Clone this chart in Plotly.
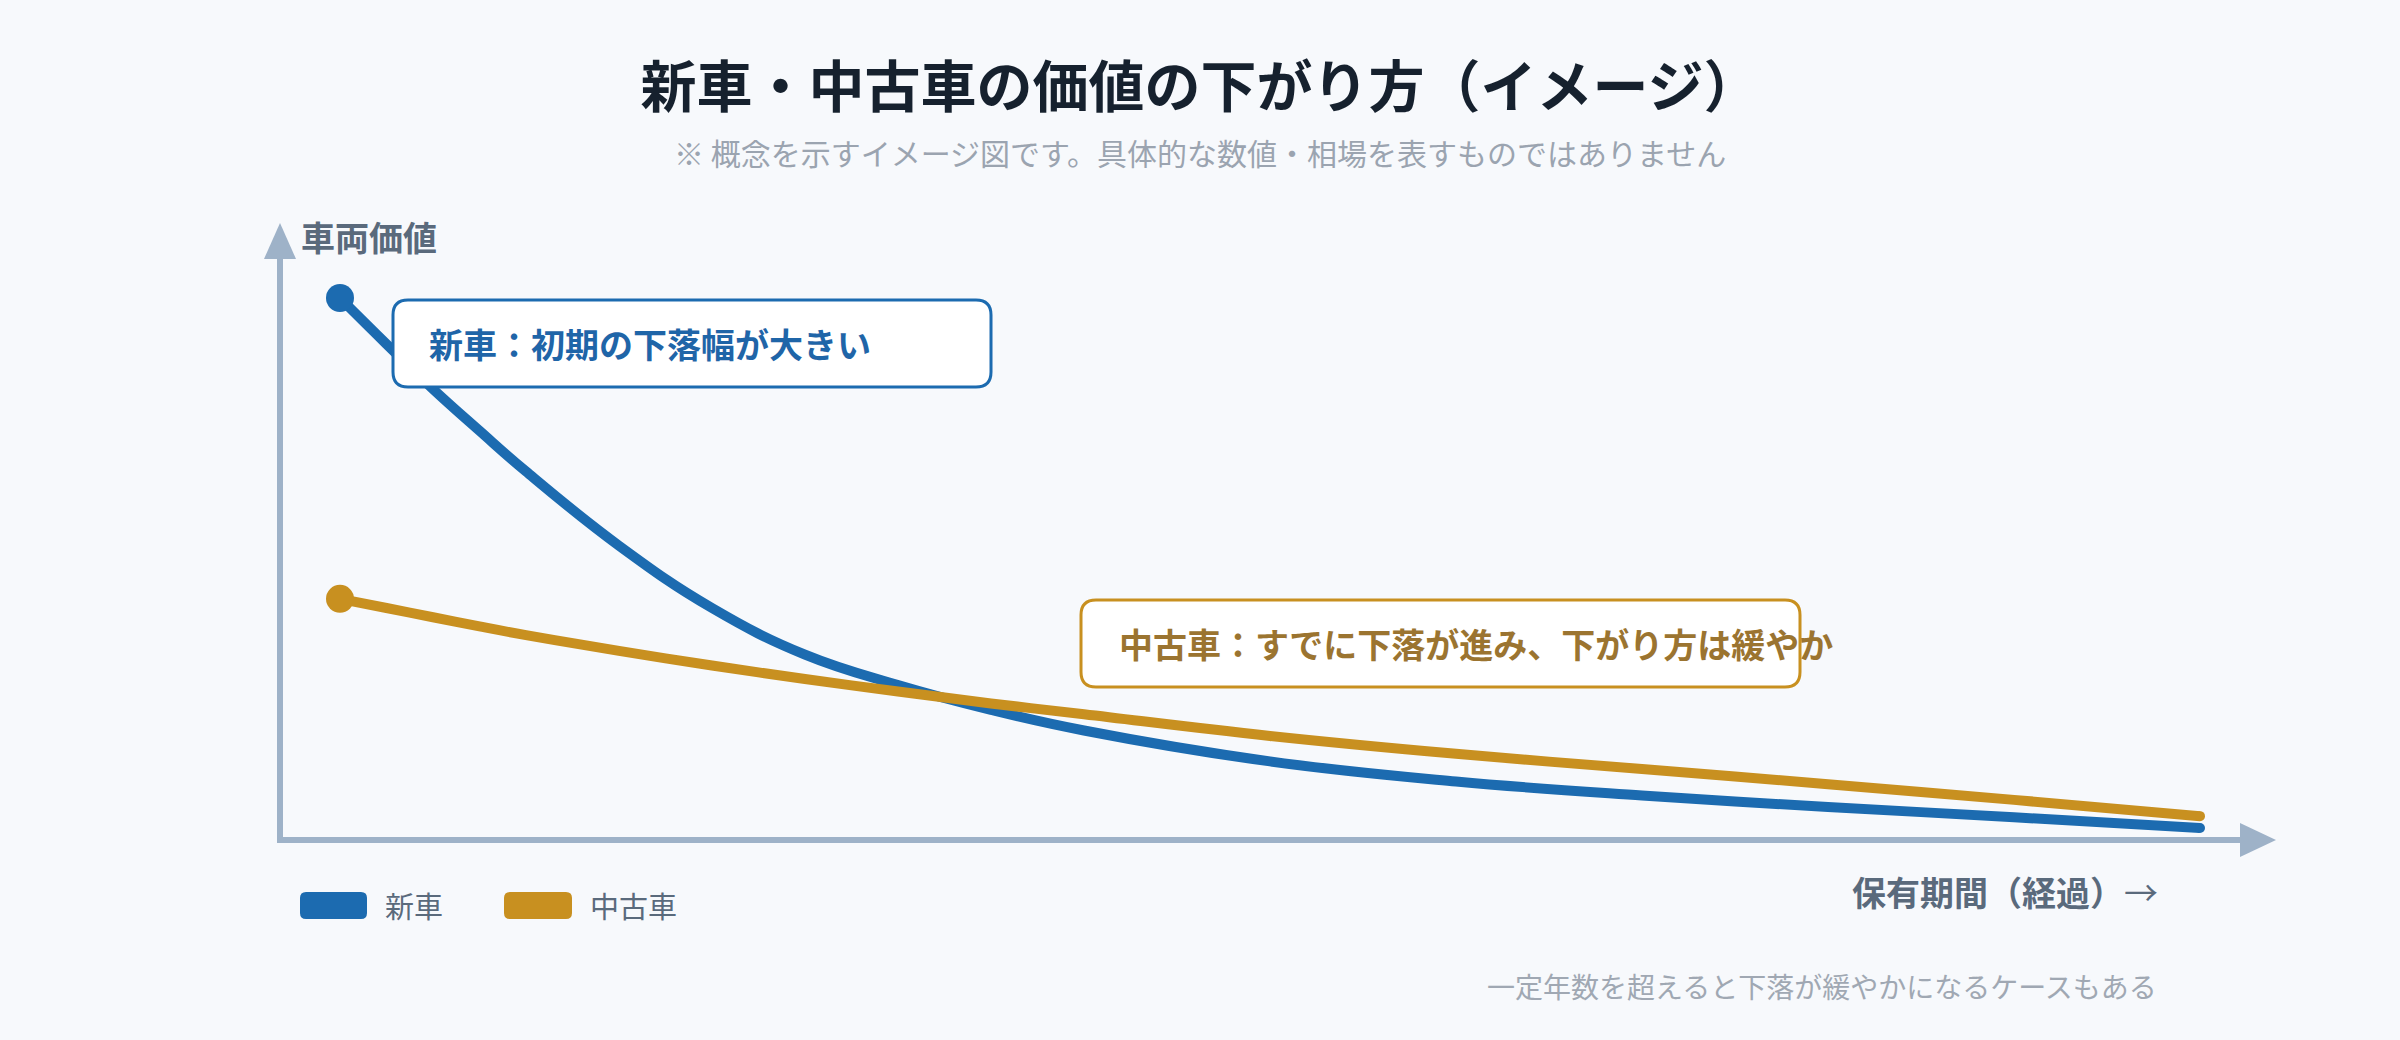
import plotly.graph_objects as go

# ---------------- data ----------------
years = [0, 0.25, 0.5, 0.75, 1, 1.5, 2, 2.5, 3, 3.5, 4, 5, 6, 7, 8, 9, 10]
new_car = [100, 91.5, 83.2, 75.5, 68.0, 54.3, 42.8, 34.2, 28.6, 24.0, 20.2, 14.5, 10.8, 8.2, 6.1, 4.2, 2.2]
used_car = [44.5, 42.8, 41.1, 39.4, 37.8, 34.9, 32.2, 29.7, 27.4, 25.2, 23.2, 19.2, 15.9, 13.1, 10.3, 7.4, 4.4]
series_names = ["新車", "中古車"]
series_colors = ["#1c6bb0", "#c89020"]

title_text = "新車・中古車の価値の下がり方（イメージ）"
subtitle_text = "※ 概念を示すイメージ図です。具体的な数値・相場を表すものではありません"
y_label = "車両価値"
x_label = "保有期間（経過）<span style='font-weight:400'>→</span>"
note_text = "一定年数を超えると下落が緩やかになるケースもある"
callouts = ["新車：初期の下落幅が大きい", "中古車：すでに下落が進み、下がり方は緩やか"]

# ---------------- layout geometry ----------------
W, H = 2400, 1040
L, R, T, B = 280, 124, 223, 200
PW, PH = W - L - R, H - T - B
FONT = "Noto Sans CJK JP, Noto Sans, sans-serif"
AXIS_COLOR = "#9eb2c8"
BG = "#f7f9fc"
LABEL_COLOR = "#5a6a7c"


def X(px):
    return (px - L) / PW


def Y(py):
    return (H - B - py) / PH


def rrect(x0, y0, x1, y1, r):
    return (f"M {X(x0 + r)},{Y(y0)} L {X(x1 - r)},{Y(y0)} Q {X(x1)},{Y(y0)} {X(x1)},{Y(y0 + r)} "
            f"L {X(x1)},{Y(y1 - r)} Q {X(x1)},{Y(y1)} {X(x1 - r)},{Y(y1)} "
            f"L {X(x0 + r)},{Y(y1)} Q {X(x0)},{Y(y1)} {X(x0)},{Y(y1 - r)} "
            f"L {X(x0)},{Y(y0 + r)} Q {X(x0)},{Y(y0)} {X(x0 + r)},{Y(y0)} Z")


fig = go.Figure()
for name, vals, col in zip(series_names, [new_car, used_car], series_colors):
    fig.add_trace(go.Scatter(
        x=years, y=vals, name=name, mode="lines",
        line=dict(color=col, width=10, shape="spline", smoothing=1.2),
        showlegend=False, hoverinfo="skip"))
    fig.add_trace(go.Scatter(
        x=[years[0], years[-1]], y=[vals[0], vals[-1]], mode="markers",
        marker=dict(color=col, size=[28, 10], opacity=1, line=dict(width=0)),
        showlegend=False, hoverinfo="skip"))

shapes = []
# axes
shapes.append(dict(type="line", xref="paper", yref="paper", x0=X(277), x1=X(2245), y0=Y(840), y1=Y(840),
                   line=dict(color=AXIS_COLOR, width=6), layer="below"))
shapes.append(dict(type="line", xref="paper", yref="paper", x0=X(280), x1=X(280), y0=Y(843), y1=Y(256),
                   line=dict(color=AXIS_COLOR, width=6), layer="below"))
shapes.append(dict(type="path", xref="paper", yref="paper",
                   path=f"M {X(2240)},{Y(823)} L {X(2276)},{Y(840)} L {X(2240)},{Y(857)} Z",
                   fillcolor=AXIS_COLOR, line=dict(width=0), layer="below"))
shapes.append(dict(type="path", xref="paper", yref="paper",
                   path=f"M {X(264)},{Y(259)} L {X(280)},{Y(223)} L {X(296)},{Y(259)} Z",
                   fillcolor=AXIS_COLOR, line=dict(width=0), layer="below"))
# callout boxes
shapes.append(dict(type="path", xref="paper", yref="paper", path=rrect(393, 300, 991, 387, 15),
                   fillcolor="white", line=dict(color=series_colors[0], width=3), layer="above"))
shapes.append(dict(type="path", xref="paper", yref="paper", path=rrect(1081, 600, 1800, 687, 15),
                   fillcolor="white", line=dict(color=series_colors[1], width=3), layer="above"))
# legend swatches
shapes.append(dict(type="path", xref="paper", yref="paper", path=rrect(300, 892, 367, 919, 6),
                   fillcolor=series_colors[0], line=dict(width=0)))
shapes.append(dict(type="path", xref="paper", yref="paper", path=rrect(504, 892, 572, 919, 6),
                   fillcolor=series_colors[1], line=dict(width=0)))


def ann(text, px, py, size, color, anchor="left", weight=400):
    return dict(text=text, xref="paper", yref="paper", x=X(px), y=Y(py), xanchor=anchor, yanchor="middle",
                showarrow=False, font=dict(family=FONT, size=size, color=color, weight=weight))


annotations = [
    ann(subtitle_text, 1200, 152, 30, "#9ba4b0", "center"),
    ann(y_label, 299, 236, 34, LABEL_COLOR, "left", 700),
    ann(x_label, 2160, 891, 34, LABEL_COLOR, "right", 700),
    ann(note_text, 2159, 986, 28, "#a0a8b3", "right"),
    ann(callouts[0], 427, 343, 34, "#1f65a8", "left", 700),
    ann(callouts[1], 1117, 643, 34, "#9b7430", "left", 700),
    ann(series_names[0], 383, 905, 29, LABEL_COLOR, "left"),
    ann(series_names[1], 588, 905, 29, LABEL_COLOR, "left"),
]

fig.update_layout(
    width=W, height=H,
    margin=dict(l=L, r=R, t=T, b=B, pad=0, autoexpand=False),
    paper_bgcolor=BG, plot_bgcolor=BG,
    title=dict(text=title_text, x=0.5, xref="container", xanchor="center",
               y=1 - 87 / H, yref="container", yanchor="middle",
               font=dict(family=FONT, size=56, color="#16212e", weight=700)),
    xaxis=dict(range=[-60 / 186, 10 + 76 / 186], visible=False, fixedrange=True),
    yaxis=dict(range=[0, 617 / 5.42], visible=False, fixedrange=True),
    shapes=shapes, annotations=annotations,
    showlegend=False,
)

fig.write_html("out.html", config={"displayModeBar": False},
               post_script="document.body.style.margin='0';document.body.style.overflow='hidden';")
